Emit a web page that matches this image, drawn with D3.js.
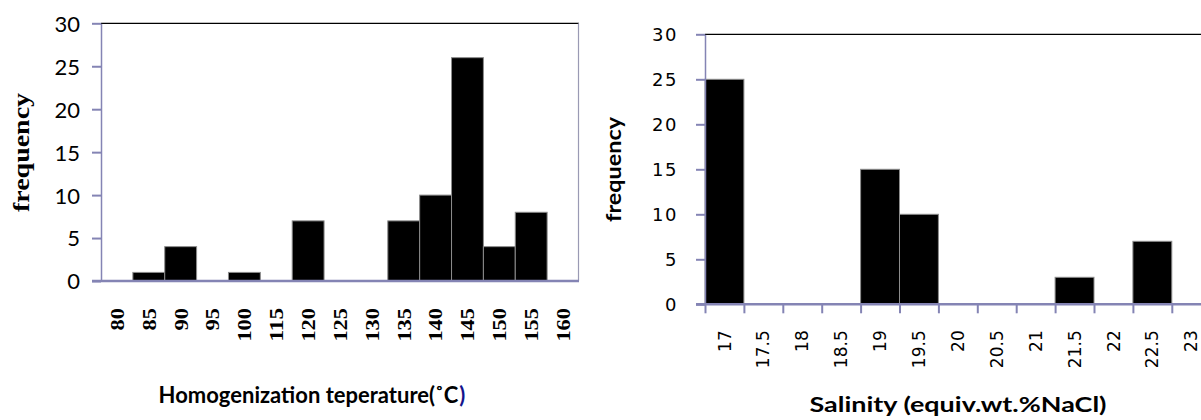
<!DOCTYPE html>
<html>
<head>
<meta charset="utf-8">
<script src="https://cdn.jsdelivr.net/npm/d3@7"></script>
<style>
  html, body { margin: 0; padding: 0; background: #fff; }
  svg { display: block; }
</style>
</head>
<body>
<svg id="chart" width="1201" height="420"></svg>
<script>
// Homogenization temperature histogram (°C classes)
const tempClasses = ["80","85","90","95","100","115","120","125","130","135","140","145","150","155","160"];
const tempFreq    = [0, 1, 4, 0, 1, 0, 7, 0, 0, 7, 10, 26, 4, 8, 0];

// Salinity histogram (equiv. wt.% NaCl classes)
const salClasses = ["17","17.5","18","18.5","19","19.5","20","20.5","21","21.5","22","22.5","23"];
const salFreq    = [25, 0, 0, 0, 15, 10, 0, 0, 0, 3, 0, 7, 0];

const freqTicks = [0, 5, 10, 15, 20, 25, 30];

const svg = d3.select("#chart");
const axisColor = "#8484b4";

// ---------- left panel ----------
{
  const x = d3.scaleBand().domain(tempClasses).range([101, 579]).padding(0);
  const y = d3.scaleLinear().domain([0, 30]).range([281, 23.3]);
  const g = svg.append("g");

  // plot frame: black top edge, grey right edge
  g.append("line").attr("x1", 101).attr("x2", 579).attr("y1", y(30)).attr("y2", y(30))
    .attr("stroke", "#000").attr("stroke-width", 1.2);
  g.append("line").attr("x1", 578.5).attr("x2", 578.5).attr("y1", y(30)).attr("y2", y(0))
    .attr("stroke", "#9a9ab4").attr("stroke-width", 1.2);

  const data = tempClasses.map((c, i) => ({ c, v: tempFreq[i] })).filter(d => d.v > 0);
  g.selectAll("rect.bar").data(data).enter().append("rect")
    .attr("class", "bar")
    .attr("x", d => x(d.c)).attr("width", x.bandwidth())
    .attr("y", d => y(d.v)).attr("height", d => y(0) - y(d.v))
    .attr("fill", "#000").attr("stroke", "#8c8c8c").attr("stroke-width", 1);

  // y axis
  const ya = g.append("g").attr("transform", "translate(101,0)")
    .call(d3.axisLeft(y).tickValues(freqTicks).tickSize(9).tickSizeOuter(0).tickPadding(12));
  ya.select(".domain").attr("stroke", axisColor).attr("stroke-width", 1.5);
  ya.selectAll(".tick line").attr("stroke", axisColor).attr("stroke-width", 2);
  ya.selectAll(".tick text").attr("font-family", "Lato, 'Open Sans', sans-serif")
    .attr("font-size", 22).attr("dy", "0.36em").attr("fill", "#000");

  // x axis (class labels, rotated)
  const xa = g.append("g").attr("transform", `translate(0,${y(0)})`)
    .call(d3.axisBottom(x).tickSize(0).tickSizeOuter(0));
  xa.select(".domain").remove();
  xa.selectAll(".tick text")
    .attr("transform", "rotate(-90)")
    .attr("x", -27).attr("y", 0).attr("dy", "0.36em")
    .attr("text-anchor", "end")
    .attr("font-family", "'Liberation Serif', 'Times New Roman', serif")
    .attr("font-weight", "bold").attr("font-size", 19)
    .attr("textLength", d => d.length * 11.2).attr("lengthAdjust", "spacingAndGlyphs")
    .attr("fill", "#000");

  // zero line over the bar bases
  g.append("line").attr("x1", 92).attr("x2", 579).attr("y1", y(0)).attr("y2", y(0))
    .attr("stroke", axisColor).attr("stroke-width", 2.6);

  // titles
  g.append("text")
    .attr("transform", `translate(29,${(93 + 212) / 2}) rotate(-90)`)
    .attr("text-anchor", "middle")
    .attr("font-family", "'Liberation Serif', 'Times New Roman', serif")
    .attr("font-weight", "bold").attr("font-size", 23)
    .attr("textLength", 119).attr("lengthAdjust", "spacingAndGlyphs")
    .text("frequency");

  // axis title, stretched horizontally to its span; closing bracket in dark blue
  const xt = g.append("text")
    .attr("x", 0).attr("y", 0).attr("text-anchor", "middle")
    .attr("font-family", "Lato, 'Open Sans', sans-serif")
    .attr("font-weight", "bold").attr("font-size", 23);
  xt.append("tspan").text("Homogenization teperature(\u02DAC");
  xt.append("tspan").attr("dx", 1).attr("fill", "#14148c").text(")");
  const natural = xt.node().getComputedTextLength();
  const sx = 306 / natural;
  xt.attr("transform", `translate(312,403) scale(${sx},1)`);
}

// ---------- right panel ----------
{
  const n = salClasses.length;
  const step = 38.9;
  const x = d3.scaleBand().domain(salClasses).range([705, 705 + n * step]).padding(0);
  const xEdge = d3.scaleLinear().domain([0, n]).range([705, 705 + n * step]);
  const y = d3.scaleLinear().domain([0, 30]).range([304.3, 34.3]);
  const g = svg.append("g");

  g.append("line").attr("x1", 705).attr("x2", 1201).attr("y1", y(30)).attr("y2", y(30))
    .attr("stroke", "#000").attr("stroke-width", 1.2);

  const data = salClasses.map((c, i) => ({ c, v: salFreq[i] })).filter(d => d.v > 0);
  g.selectAll("rect.bar").data(data).enter().append("rect")
    .attr("class", "bar")
    .attr("x", d => x(d.c)).attr("width", x.bandwidth())
    .attr("y", d => y(d.v)).attr("height", d => y(0) - y(d.v))
    .attr("fill", "#000").attr("stroke", "#8c8c8c").attr("stroke-width", 1);

  // y axis
  const ya = g.append("g").attr("transform", "translate(705,0)")
    .call(d3.axisLeft(y).tickValues(freqTicks).tickSize(9).tickSizeOuter(0).tickPadding(18));
  ya.select(".domain").attr("stroke", axisColor).attr("stroke-width", 1.5);
  ya.selectAll(".tick line").attr("stroke", axisColor).attr("stroke-width", 2);
  ya.selectAll(".tick text").attr("font-family", "'DejaVu Sans', Verdana, sans-serif")
    .attr("font-size", 18).attr("letter-spacing", "1.5px").attr("fill", "#000");

  // tick marks on class boundaries
  const xe = g.append("g").attr("transform", `translate(0,${y(0)})`)
    .call(d3.axisBottom(xEdge).tickValues(d3.range(0, n + 1)).tickFormat("").tickSize(9).tickSizeOuter(0));
  xe.select(".domain").remove();
  xe.selectAll(".tick line").attr("stroke", axisColor).attr("stroke-width", 2);

  // class labels, rotated
  const xa = g.append("g").attr("transform", `translate(0,${y(0)})`)
    .call(d3.axisBottom(x).tickSize(0).tickSizeOuter(0));
  xa.select(".domain").remove();
  xa.selectAll(".tick text")
    .attr("transform", "rotate(-90)")
    .attr("x", -26).attr("y", 0).attr("dy", "0.36em")
    .attr("text-anchor", "end")
    .attr("font-family", "'DejaVu Sans', Verdana, sans-serif")
    .attr("font-size", 17).attr("fill", "#000");

  g.append("line").attr("x1", 696).attr("x2", 1201).attr("y1", y(0)).attr("y2", y(0))
    .attr("stroke", axisColor).attr("stroke-width", 2.4);

  // titles
  g.append("text")
    .attr("transform", `translate(621,${(117 + 222) / 2}) rotate(-90)`)
    .attr("text-anchor", "middle")
    .attr("font-family", "Lato, 'Open Sans', sans-serif")
    .attr("font-weight", "bold").attr("font-size", 21)
    .attr("textLength", 105).attr("lengthAdjust", "spacingAndGlyphs")
    .text("frequency");

  g.append("text")
    .attr("x", 958).attr("y", 412).attr("text-anchor", "middle")
    .attr("font-family", "Lato, 'Open Sans', sans-serif")
    .attr("font-weight", "bold").attr("font-size", 21)
    .attr("textLength", 297).attr("lengthAdjust", "spacingAndGlyphs")
    .text("Salinity (equiv.wt.%NaCl)");
}
</script>
</body>
</html>
